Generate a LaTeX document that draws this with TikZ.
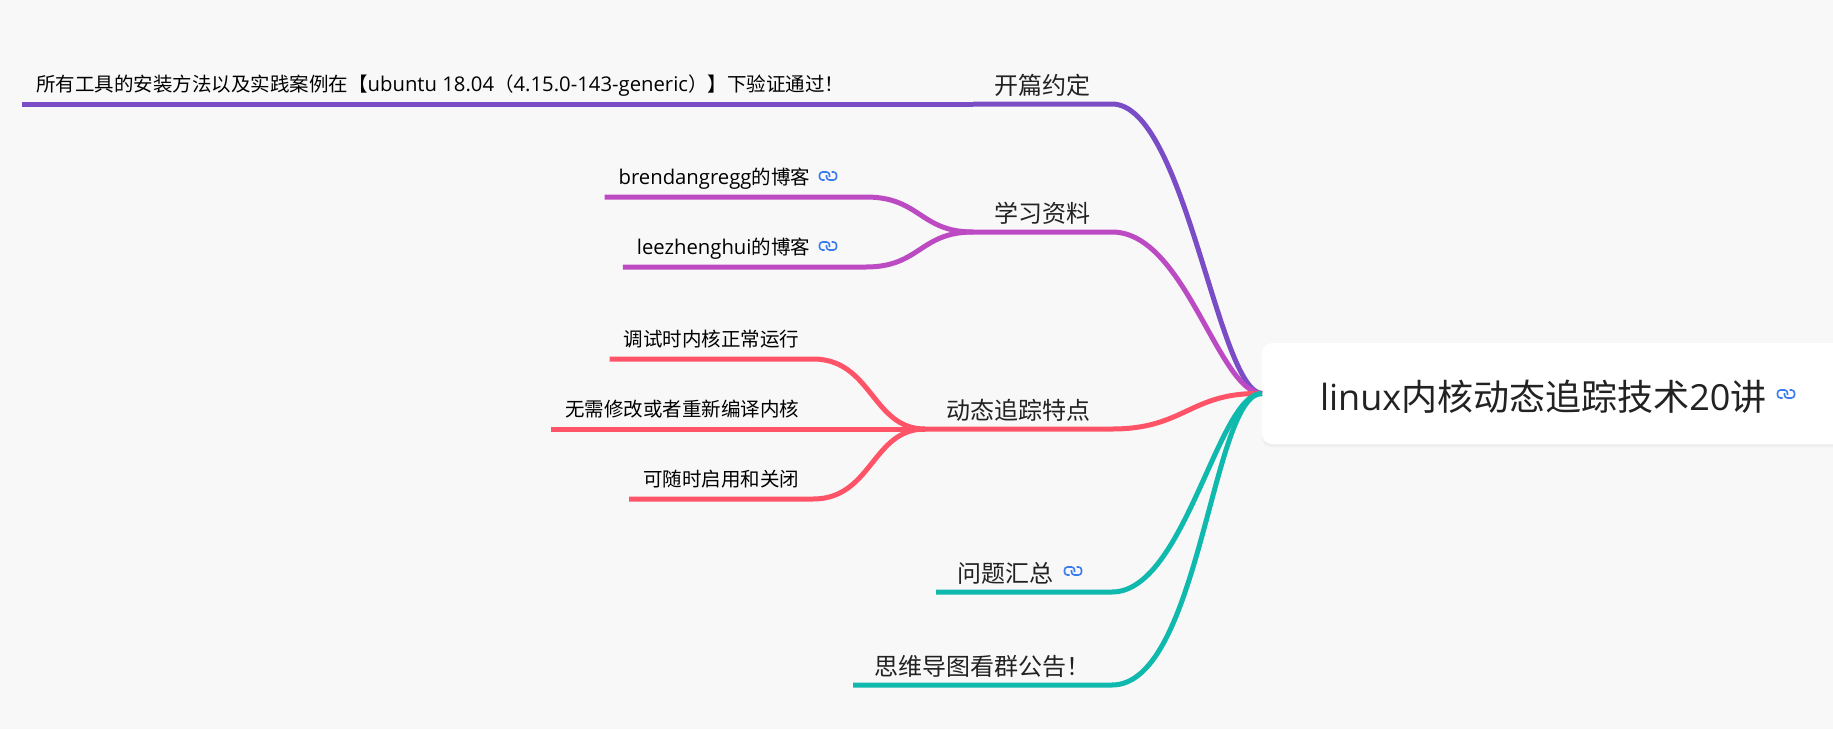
\documentclass[tikz,border=0pt]{standalone}
\usepackage{fontspec}
\setmainfont{Noto Sans CJK SC}
\newfontfamily\latinfont[Scale=1.04]{Open Sans}
\newfontfamily\rootlatin{Open Sans}
\usetikzlibrary{shadows}

\definecolor{pagebg}{HTML}{F8F8F8}
\definecolor{linkblue}{HTML}{3B7BF0}
\definecolor{purplebr}{HTML}{7A4DC7}
\definecolor{magentabr}{HTML}{BC4BC3}
\definecolor{redbr}{HTML}{FF5468}
\definecolor{tealbr}{HTML}{10B9AD}
\definecolor{inktext}{HTML}{222222}

\newcommand{\lat}[1]{{\latinfont #1}}

\tikzset{
  rootbox/.style={fill=white,rounded corners=10pt,anchor=west,font=\fontsize{36}{40}\selectfont,
    text=inktext,inner xsep=58pt,inner ysep=0pt,outer sep=0pt,text height=34pt,text depth=0pt,
    minimum height=101pt,drop shadow={opacity=0.08,shadow xshift=0pt,shadow yshift=-3pt}},
  topic/.style={anchor=south east,font=\fontsize{24}{28}\selectfont,text=inktext,
    inner xsep=21.5pt,inner ysep=10pt,outer sep=0pt,text depth=0pt},
  leaf/.style={anchor=south east,font=\fontsize{19.5}{24}\selectfont,text=black,
    inner xsep=14pt,inner ysep=12.5pt,outer sep=0pt,text depth=0pt},
  branch/.style={line width=5pt},
  linkicon/.pic={
    \draw[linkblue,line width=1.6pt,rounded corners=3pt] (-3.5,4) -- (-8.5,4) -- (-8.5,-4) -- (1.5,-4) -- (1.5,1);
    \draw[linkblue,line width=1.6pt,rounded corners=3pt] (3.5,-4) -- (8.5,-4) -- (8.5,4) -- (-1.5,4) -- (-1.5,-1);
  }
}

\begin{document}
\begin{tikzpicture}[x=1pt,y=-1pt]
  \fill[pagebg] (0,0) rectangle (1833,729);
  \clip (0,0) rectangle (1833,729);

  \node[rootbox] (root) at (1262,393.5) {{\rootlatin linux}内核动态追踪技术{\rootlatin 20}讲\hspace{30pt}\null};

  \node[topic] (opening) at (1112,104) {开篇约定};
  \node[topic] (material) at (1112,232) {学习资料};
  \node[topic] (feature) at (1112,429) {动态追踪特点};
  \node[topic] (summary) at (1112,592) {问题汇总\hspace{37pt}\null};
  \node[topic] (notice) at (1112,685) {思维导图看群公告！};

  \node[leaf] (verified) at (858,104) {所有工具的安装方法以及实践案例在【\lat{ubuntu 18.04}（\lat{4.15.0-143-generic}）】下验证通过！};
  \node[leaf] (brendan) at (866,197) {\lat{brendangregg}的博客\hspace{42pt}\null};
  \node[leaf] (leezh) at (866,267) {\lat{leezhenghui}的博客\hspace{42pt}\null};
  \node[leaf] (debugrun) at (813,359) {调试时内核正常运行};
  \node[leaf] (nomodify) at (813,429) {无需修改或者重新编译内核};
  \node[leaf] (toggle) at (813,499) {可随时启用和关闭};

  % root branches
  \draw[branch,purplebr] (opening.south west) -- (opening.south east) .. controls (1185,104) and (1218,392) .. (root.west);
  \draw[branch,magentabr] (material.south west) -- (material.south east) .. controls (1185,232) and (1218,392) .. (root.west);
  \draw[branch,redbr] (feature.south west) -- (feature.south east) .. controls (1185,429) and (1190,392) .. (root.west);
  \draw[branch,tealbr] (summary.south west) -- (summary.south east) .. controls (1185,592) and (1218,392) .. (root.west);
  \draw[branch,tealbr] (notice.south west) -- (notice.south east) .. controls (1200,685) and (1212,392) .. (root.west);

  % leaves
  \draw[branch,purplebr] (verified.south west) -- (verified.south east) -- (opening.south west);
  \draw[branch,magentabr] (brendan.south west) -- (brendan.south east) .. controls (920,197) and (920,232) .. (material.south west);
  \draw[branch,magentabr] (leezh.south west) -- (leezh.south east) .. controls (920,267) and (920,232) .. (material.south west);
  \draw[branch,redbr] (debugrun.south west) -- (debugrun.south east) .. controls (872,359) and (872,429) .. (feature.south west);
  \draw[branch,redbr] (nomodify.south west) -- (nomodify.south east) -- (feature.south west);
  \draw[branch,redbr] (toggle.south west) -- (toggle.south east) .. controls (872,499) and (872,429) .. (feature.south west);

  \pic at (1786,394) {linkicon};
  \pic at (1073,571) {linkicon};
  \pic at (828,176) {linkicon};
  \pic at (828,246) {linkicon};
\end{tikzpicture}
\end{document}
